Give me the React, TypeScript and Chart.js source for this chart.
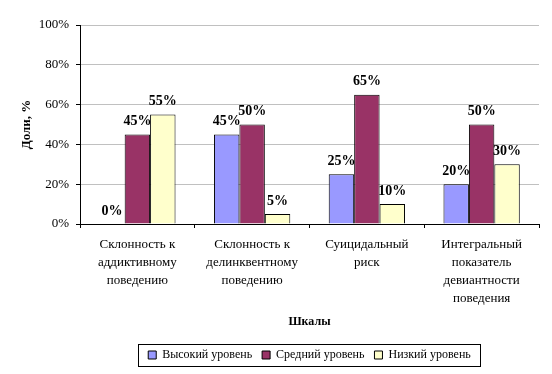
import React, { useEffect, useRef } from "react";
import { Chart, registerables } from "chart.js";

Chart.register(...registerables);

const categories: string[][] = [
  ["Склонность к", "аддиктивному", "поведению"],
  ["Склонность к", "делинквентному", "поведению"],
  ["Суицидальный", "риск"],
  ["Интегральный", "показатель", "девиантности", "поведения"],
];
const seriesNames = ["Высокий уровень", "Средний уровень", "Низкий уровень"];
const highValues = [0, 45, 25, 20];
const midValues = [45, 50, 65, 50];
const lowValues = [55, 5, 10, 30];
const seriesColors = ["#9999FF", "#993366", "#FFFFCC"];
const yTicksMax = 100;
const yTicksStep = 20;
const xTitle = "Шкалы";
const yTitle = "Доли, %";

const FONT = "'Liberation Serif', 'Times New Roman', serif";

const dataLabelPlugin = {
  id: "dataLabels",
  afterDatasetsDraw(chart: any) {
    const ctx = chart.ctx;
    ctx.save();
    ctx.font = `bold 14px ${FONT}`;
    ctx.fillStyle = "#000";
    ctx.textAlign = "center";
    ctx.textBaseline = "alphabetic";
    chart.data.datasets.forEach((ds: any, i: number) => {
      const meta = chart.getDatasetMeta(i);
      meta.data.forEach((el: any, j: number) => {
        ctx.fillText(`${ds.data[j]}%`, el.x, el.y - 9.5);
      });
    });
    ctx.restore();
  },
};

const legendBorderPlugin = {
  id: "legendBorder",
  afterDraw(chart: any) {
    const lg = chart.legend;
    if (!lg || !lg.legendHitBoxes || !lg.legendHitBoxes.length) return;
    const hb = lg.legendHitBoxes;
    let l = Infinity, r = -Infinity, t = Infinity, b = -Infinity;
    hb.forEach((h: any) => {
      l = Math.min(l, h.left);
      r = Math.max(r, h.left + h.width);
      t = Math.min(t, h.top);
      b = Math.max(b, h.top + h.height);
    });
    const ctx = chart.ctx;
    ctx.save();
    ctx.strokeStyle = "#000";
    ctx.lineWidth = 1;
    ctx.strokeRect(Math.round(l - 10) + 0.5, Math.round(t - 5) + 0.5, Math.round(r - l + 19), Math.round(b - t + 10));
    ctx.restore();
  },
};

export default function App() {
  const ref = useRef<HTMLCanvasElement | null>(null);
  useEffect(() => {
    document.body.style.margin = "0";
    if (!ref.current) return;
    const values = [highValues, midValues, lowValues];
    const chart = new Chart(ref.current, {
      type: "bar",
      data: {
        labels: categories,
        datasets: seriesNames.map((name, i) => ({
          label: name,
          data: values[i],
          backgroundColor: seriesColors[i],
          borderColor: "#000",
          borderWidth: 1,
          categoryPercentage: 0.665,
          barPercentage: 1,
        })),
      },
      options: {
        responsive: false,
        animation: false,
        layout: { padding: { left: 0, right: 13, top: 25, bottom: 3 } },
        plugins: {
          tooltip: { enabled: false },
          legend: {
            position: "bottom",
            fullSize: false,
            labels: {
              boxWidth: 8,
              boxHeight: 8,
              padding: 10,
              color: "#000",
              font: { family: FONT, size: 12 },
            },
          },
        },
        scales: {
          x: {
            grid: {
              offset: true,
              drawOnChartArea: false,
              drawTicks: true,
              tickLength: 4,
              color: "#000",
            },
            border: { color: "#000", width: 1 },
            ticks: {
              color: "#000",
              padding: 8,
              maxRotation: 0,
              autoSkip: false,
              font: { family: FONT, size: 13, lineHeight: 18 / 13 },
            },
            title: {
              display: true,
              text: xTitle,
              color: "#000",
              font: { family: FONT, size: 12, weight: "bold" },
              padding: { top: 4, bottom: 9.8 },
            },
            afterFit(scale: any) {
              scale.height = 115;
            },
          },
          y: {
            min: 0,
            max: yTicksMax,
            ticks: {
              stepSize: yTicksStep,
              color: "#000",
              padding: 7,
              font: { family: FONT, size: 13 },
              callback: (v: any) => `${v}%`,
            },
            grid: {
              color: "#C0C0C0",
              tickColor: "#000",
              tickLength: 4,
            },
            border: { color: "#000", width: 1 },
            title: {
              display: true,
              text: yTitle,
              color: "#000",
              font: { family: FONT, size: 13, weight: "bold" },
              padding: { top: 18.7, bottom: 0 },
            },
            afterFit(scale: any) {
              scale.width = 80;
            },
          },
        },
      },
      plugins: [dataLabelPlugin, legendBorderPlugin],
    });
    return () => chart.destroy();
  }, []);
  return (
    <div style={{ position: "fixed", left: 0, top: 0, width: 552, height: 374, background: "#fff" }}>
      <canvas ref={ref} width={552} height={374} />
    </div>
  );
}
